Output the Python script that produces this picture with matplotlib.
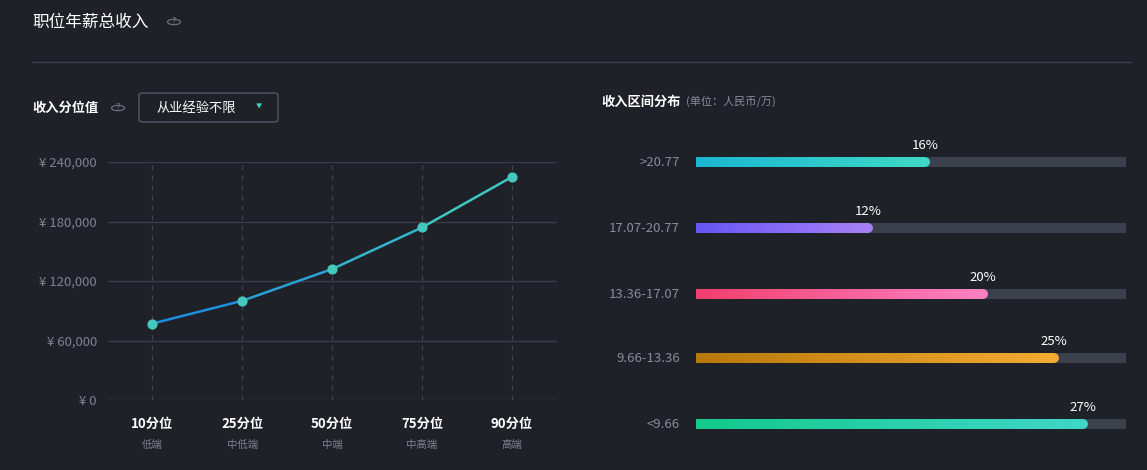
import matplotlib
matplotlib.use("Agg")
import matplotlib.pyplot as plt
import numpy as np
from matplotlib.collections import LineCollection
from matplotlib.patches import FancyBboxPatch, Circle
from matplotlib.colors import to_rgb

plt.rcParams['font.family'] = ['Noto Sans CJK SC', 'DejaVu Sans']

pct_labels = ["10分位", "25分位", "50分位", "75分位", "90分位"]
pct_sub = ["低端", "中低端", "中端", "中高端", "高端"]
pct_values = [77000, 100000, 132000, 174000, 225000]
y_ticks = [0, 60000, 120000, 180000, 240000]
y_tick_labels = ["¥ 0", "¥ 60,000", "¥ 120,000", "¥ 180,000", "¥ 240,000"]

ranges = [">20.77", "17.07-20.77", "13.36-17.07", "9.66-13.36", "<9.66"]
shares = [16, 12, 20, 25, 27]
grad_colors = [("#19b6d2", "#3ed8c6"), ("#6655f5", "#a47ff6"), ("#f03e6c", "#ff80c0"),
               ("#b8780a", "#f2aa30"), ("#13c98a", "#3ed6c8")]

BG = "#1f2129"
W, H = 1147, 470
fig = plt.figure(figsize=(W/100, H/100), dpi=100, facecolor=BG)

def px(x, y):
    return x / W, 1 - y / H

def ftext(x, y, s, **kw):
    fig.text(*px(x, y), s, **kw)

def qicon(x, y):
    fig.patches.append(Circle(px(x, y), 6.5 / W, transform=fig.transFigure, fill=False,
                              ec="#6c6f7a", lw=0.9))
    ftext(x, y, "?", color="#6c6f7a", fontsize=7, ha="center", va="center")

ftext(32, 22, "职位年薪总收入", color="white", fontsize=12, va="center")
qicon(174, 22)
fig.add_artist(plt.Line2D([32/W, 1131/W], [1-62/H]*2, color="#3a3d47", lw=1, transform=fig.transFigure))

ftext(32, 108, "收入分位值", color="white", fontsize=9.5, fontweight="bold", va="center")
qicon(118, 108)
box = FancyBboxPatch(px(139, 122), 139/W, 29/H, boxstyle="round,pad=0,rounding_size=0.004",
                     transform=fig.transFigure, fill=False, ec="#555864", lw=1)
fig.patches.append(box)
ftext(156, 108, "从业经验不限", color="white", fontsize=9.5, va="center")
ftext(259, 107, "▼", color="#3ed0c0", fontsize=4.5, va="center", ha="center")

ftext(601, 102, "收入区间分布", color="white", fontsize=9.5, fontweight="bold", va="center")
ftext(686, 102, "(单位：人民币/万)", color="#8a8d98", fontsize=8, va="center")

# Left line chart
l, b = px(108, 400)
r, t = px(557, 162)
ax = fig.add_axes([l, b, r - l, t - b], facecolor=BG)
x = np.arange(len(pct_values))
ax.set_xlim(-0.49, 4.5)
ax.set_ylim(0, 240000)
for v in y_ticks:
    ax.axhline(v, color="#3a3d47", lw=1, zorder=0)
for xi in x:
    ax.axvline(xi, color="#3f424c", lw=0.9, ls=(0, (4, 4)), zorder=0)
pts = np.column_stack([x, pct_values])
segs = [pts[i:i+2] for i in range(len(pts)-1)]
cols = [np.array(to_rgb("#1e8fe0"))*(1-f) + np.array(to_rgb("#3ec8c0"))*f for f in np.linspace(0, 1, len(segs))]
ax.add_collection(LineCollection(segs, colors=cols, lw=1.8, zorder=2))
ax.scatter(x, pct_values, s=40, color="#45c8bd", zorder=3)
for s in ax.spines.values():
    s.set_visible(False)
ax.set_yticks(y_ticks)
ax.set_yticklabels(y_tick_labels, color="#80838e", fontsize=9.5)
ax.tick_params(axis="y", length=0, pad=8)
ax.set_xticks(x)
ax.set_xticklabels([])
ax.tick_params(axis="x", length=0)
for xi, a, s2 in zip(x, pct_labels, pct_sub):
    ax.text(xi, -0.1, a, transform=ax.get_xaxis_transform(), ha="center", va="center",
            color="white", fontsize=9.5, fontweight="bold")
    ax.text(xi, -0.19, s2, transform=ax.get_xaxis_transform(), ha="center", va="center",
            color="#80838e", fontsize=7.5)

# Right bars
l2, b2 = px(696, 470)
r2, t2 = px(1126, 129)
ax2 = fig.add_axes([l2, b2, r2 - l2, t2 - b2], facecolor="none")
ax2.axis("off")
maxv = max(shares) / 0.9
ax2.set_xlim(0, maxv)
ax2.set_ylim(470, 129)
bar_y = [162, 228, 294, 358, 424]
lw = 7.2
for yv, lab, v, (c0, c1) in zip(bar_y, ranges, shares, grad_colors):
    ax2.plot([0, maxv], [yv, yv], color="#3c404c", lw=lw, solid_capstyle="round", zorder=1)
    n = 80
    xs = np.linspace(0, v, n + 1)
    sg = [[(xs[i], yv), (xs[i+1], yv)] for i in range(n)]
    cc = [np.array(to_rgb(c0))*(1-f) + np.array(to_rgb(c1))*f for f in np.linspace(0, 1, n)]
    ax2.add_collection(LineCollection(sg, colors=cc, lw=lw, capstyle="round", zorder=2))
    ax2.text(v, yv - 16, f"{v}%", ha="center", va="center", color="white", fontsize=9.5)
    ftext(680, yv, lab, ha="right", va="center", color="#8a8d98", fontsize=9.5)

fig.savefig("out.png", dpi=100, facecolor=BG)
